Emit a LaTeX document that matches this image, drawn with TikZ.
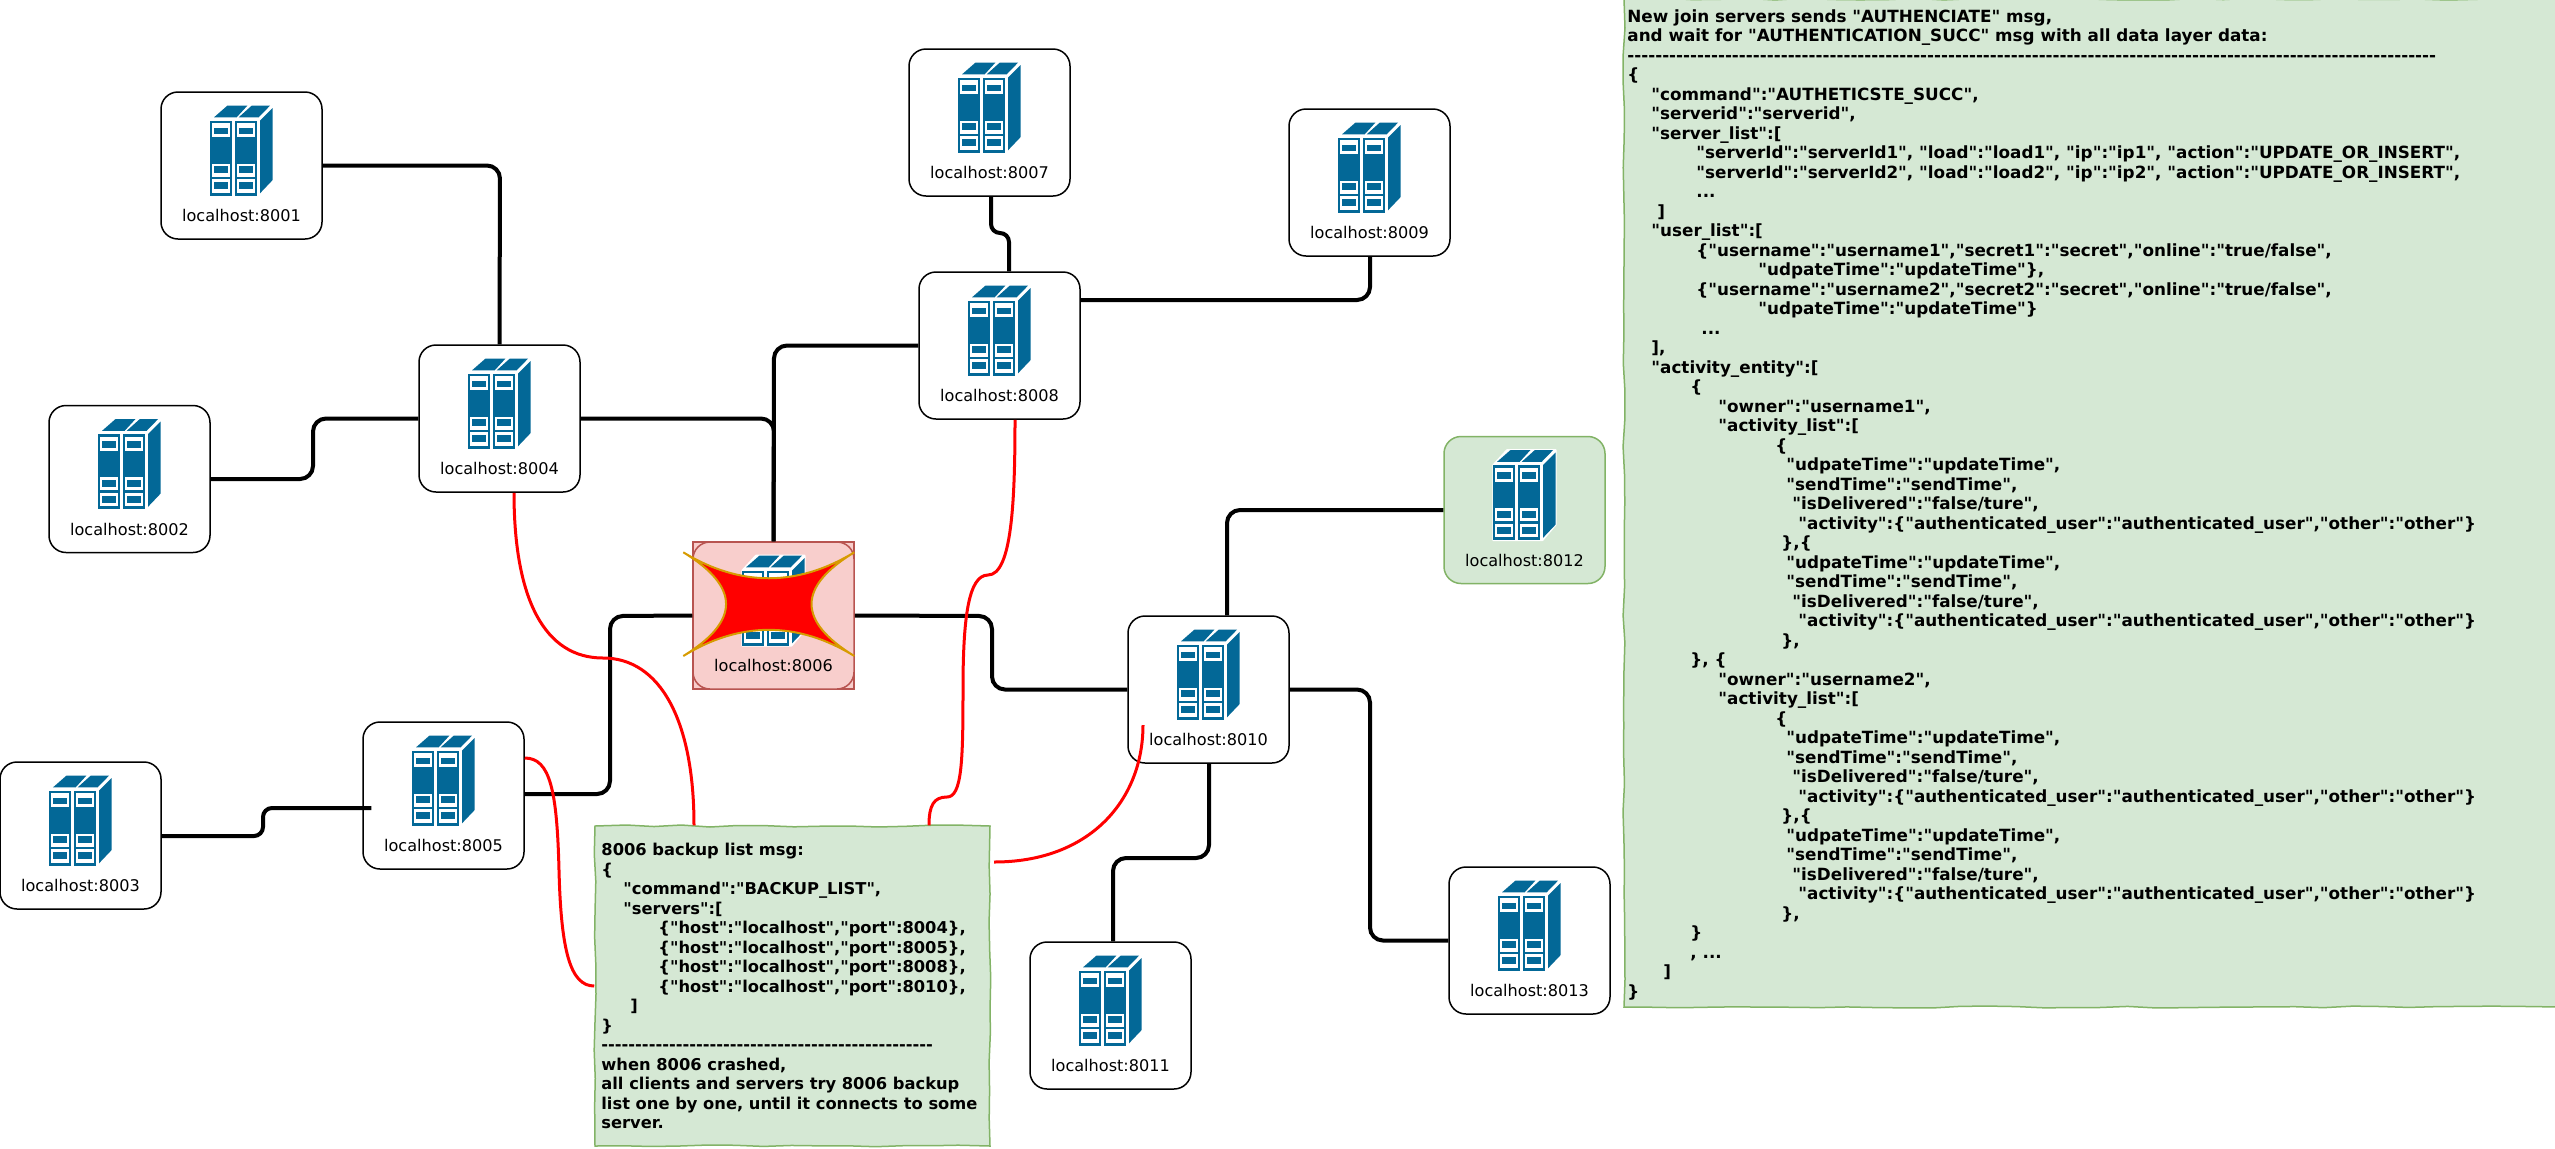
\documentclass[tikz,border=0pt]{standalone}
\usepackage{fontspec}
\usetikzlibrary{decorations.pathmorphing}
\setmainfont{DejaVu Sans}
\newfontfamily\notefont{DejaVu Sans Bold}
\definecolor{srvblue}{HTML}{036897}
\definecolor{pinkfill}{HTML}{F8CECC}
\definecolor{pinkline}{HTML}{B85450}
\definecolor{greenfill}{HTML}{D5E8D4}
\definecolor{greenline}{HTML}{82B366}
\definecolor{starline}{HTML}{D79B00}
\newdimen\pxu \pxu=.5pt
\newcommand{\jl}[2]{\hspace*{#1\pxu}#2\\}
\tikzset{
  srvbox/.style={draw=black,fill=white,line width=.75pt,rounded corners=8.5pt,minimum width=80.5pt,minimum height=73.5pt,inner sep=0pt},
  srvlabel/.style={anchor=base,inner sep=0pt,font=\fontsize{8.05}{10}\selectfont},
  crashed/.style={draw=pinkline,fill=pinkfill},
  added/.style={draw=greenline,fill=greenfill},
  net/.style={draw=black,line width=2pt,rounded corners=6.5pt},
  netjog/.style={draw=black,line width=2pt,rounded corners=4.5pt},
  backup/.style={draw=red,line width=1.5pt},
  notebox/.style={draw=greenline,fill=greenfill,line width=.75pt,inner sep=0pt,decorate,decoration={random steps,segment length=14pt,amplitude=.5pt}},
  notetext/.style={anchor=north west,inner sep=0pt,align=left,font=\fontsize{8.15}{9.75}\selectfont\notefont},
  rnotetext/.style={notetext,font=\fontsize{8.4}{9.75}\selectfont\notefont},
  pics/srvicon/.style={code={
    \begin{scope}[x=.16667pt,y=-.16667pt,shift={(-274.5,-256.5)}]
      \filldraw[white,line width=1pt,line join=round] (181,122)--(222,77)--(368,77)--(368,300)--(328,347)--(181,347)--cycle;
      \fill[srvblue] (192,112)--(232,77)--(292,77)--(260,112)--cycle;
      \fill[srvblue] (266,112)--(305,77)--(360,77)--(326,112)--cycle;
      \fill[srvblue] (330,122)--(368,84)--(368,300)--(330,340)--cycle;
      \foreach \u in {181,255}{
        \fill[srvblue] (\u,122) rectangle (\u+65,347);
        \fill[white] (\u+6,130) rectangle (\u+60,172);
        \fill[white] (\u+6,251) rectangle (\u+60,290);
        \fill[white] (\u+6,298) rectangle (\u+60,338);
        \fill[srvblue] (\u+12,143) rectangle (\u+54,163);
        \fill[srvblue] (\u+12,258) rectangle (\u+54,280);
        \fill[srvblue] (\u+12,306) rectangle (\u+54,328);
      }
    \end{scope}
  }}
}
\newcommand{\srv}[5]{%
  \node[srvbox,#4] (#1) at (#2,#3) {};
  \pic at (#1.center) {srvicon};
  \node[srvlabel] (#1l) at ([yshift=-28pt]#1.center) {#5};
}
\begin{document}
\begin{tikzpicture}[x=.5pt,y=-.5pt]
\pgfmathsetseed{7}
\useasboundingbox (0,0) rectangle (2555,1148);
\filldraw[fill=pinkfill,draw=pinkline,line width=.75pt] (693,542) rectangle (854,689);
\srv{n8001}{241.5}{165.5}{}{localhost:8001}
\srv{n8002}{129.5}{479}{}{localhost:8002}
\srv{n8003}{80.5}{835.5}{}{localhost:8003}
\srv{n8004}{499.5}{418.5}{}{localhost:8004}
\srv{n8005}{443.5}{795.5}{}{localhost:8005}
\srv{n8006}{773.5}{615.5}{crashed}{localhost:8006}
\srv{n8007}{989.5}{122.5}{}{localhost:8007}
\srv{n8008}{999.5}{345.5}{}{localhost:8008}
\srv{n8009}{1369.5}{182.5}{}{localhost:8009}
\srv{n8010}{1208.5}{689.5}{}{localhost:8010}
\srv{n8011}{1110.5}{1015.5}{}{localhost:8011}
\srv{n8012}{1524.5}{510}{added}{localhost:8012}
\srv{n8013}{1529.5}{940.5}{}{localhost:8013}
% crash star
\coordinate (sNW) at (683.3,552.3);
\coordinate (sNE) at (854.3,552.3);
\coordinate (sSE) at (854.3,656);
\coordinate (sSW) at (683.3,656);
\filldraw[fill=red,draw=starline,line width=1pt] (sNW) .. controls (740.3,586.9) and (797.3,586.9) .. (sNE) .. controls (797.3,586.9) and (797.3,621.1) .. (sSE) .. controls (797.3,621.1) and (740.3,621.1) .. (sSW) .. controls (740.3,621.1) and (740.3,586.9) .. (sNW) -- cycle;
% notes
\node[notebox,minimum width=197.5pt,minimum height=160pt] (note) at (792.5,986) {};
\node[notetext] (notet) at (601,843) {%
8006 backup list msg:\\
\{\\
\jl{22}{"command":"BACKUP\_LIST",}
\jl{22}{"servers":[}
\jl{57}{\{"host":"localhost","port":8004\},}
\jl{57}{\{"host":"localhost","port":8005\},}
\jl{57}{\{"host":"localhost","port":8008\},}
\jl{57}{\{"host":"localhost","port":8010\},}
\jl{29}{]}
\}\\
-------------------------------------------------\\
when 8006 crashed,\\
all clients and servers try 8006 backup\\
list one by one, until it connects to some\\
server.};
\node[notebox,minimum width=468pt,minimum height=504pt] (rnote) at (2092,503) {};
\node[rnotetext] (rnotet) at (1627,9) {%
New join servers sends "AUTHENCIATE" msg,\\
and wait for "AUTHENTICATION\_SUCC" msg with all data layer data:\\
--------------------------------------------------------------------------------------------------------------------\\
\{\\
\jl{24}{"command":"AUTHETICSTE\_SUCC",}
\jl{24}{"serverid":"serverid",}
\jl{24}{"server\_list":[}
\jl{69}{"serverId":"serverId1", "load":"load1", "ip":"ip1", "action":"UPDATE\_OR\_INSERT",}
\jl{69}{"serverId":"serverId2", "load":"load2", "ip":"ip2", "action":"UPDATE\_OR\_INSERT",}
\jl{69}{...}
\jl{30}{]}
\jl{24}{"user\_list":[}
\jl{69}{\{"username":"username1","secret1":"secret","online":"true/false",}
\jl{131}{"udpateTime":"updateTime"\},}
\jl{69}{\{"username":"username2","secret2":"secret","online":"true/false",}
\jl{131}{"udpateTime":"updateTime"\}}
\jl{74}{...}
\jl{24}{],}
\jl{24}{"activity\_entity":[}
\jl{63}{\{}
\jl{91}{"owner":"username1",}
\jl{91}{"activity\_list":[}
\jl{148}{\{}
\jl{159}{"udpateTime":"updateTime",}
\jl{159}{"sendTime":"sendTime",}
\jl{165}{"isDelivered":"false/ture",}
\jl{171}{"activity":\{"authenticated\_user":"authenticated\_user","other":"other"\}}
\jl{154}{\},\{}
\jl{159}{"udpateTime":"updateTime",}
\jl{159}{"sendTime":"sendTime",}
\jl{165}{"isDelivered":"false/ture",}
\jl{171}{"activity":\{"authenticated\_user":"authenticated\_user","other":"other"\}}
\jl{154}{\},}
\jl{63}{\}, \{}
\jl{91}{"owner":"username2",}
\jl{91}{"activity\_list":[}
\jl{148}{\{}
\jl{159}{"udpateTime":"updateTime",}
\jl{159}{"sendTime":"sendTime",}
\jl{165}{"isDelivered":"false/ture",}
\jl{171}{"activity":\{"authenticated\_user":"authenticated\_user","other":"other"\}}
\jl{154}{\},\{}
\jl{159}{"udpateTime":"updateTime",}
\jl{159}{"sendTime":"sendTime",}
\jl{165}{"isDelivered":"false/ture",}
\jl{171}{"activity":\{"authenticated\_user":"authenticated\_user","other":"other"\}}
\jl{154}{\},}
\jl{63}{\}}
\jl{63}{, ...}
\jl{36}{]}
\}};
% black links
\draw[net] (n8001.east) -- (500,165.5) -- (n8004.north);
\draw[net] (n8002.east) -- (313,479) -- (313,418.5) -- (n8004.west);
\draw[netjog] (n8003.east |- 0,836) -- (263,836) -- (263,808) -- (n8005.west |- 0,808) -- (368,808);
\draw[net] (n8004.east) -- (774,418.5) -- (n8006.north);
\draw[net] (n8008.west) -- (774,345.5) -- (n8006.north);
\draw[net] (n8005.east |- 0,794) -- (610,794) -- (610,616) -- (n8006.west);
\draw[net] (n8006.east) -- (992,616) -- (992,689.5) -- (n8010.west);
\draw[netjog] (n8007.south -| 991,0) -- (991,233) -- (1009,233) -- (n8008.north -| 1009,0);
\draw[net] (n8008.east |- 0,300) -- (1370,300) -- (n8009.south -| 1370,0);
\draw[net] (n8010.north -| 1227,0) -- (1227,510) -- (n8012.west);
\draw[net] (n8010.east) -- (1370,689.5) -- (1370,940.5) -- (n8013.west);
\draw[net] (n8010.south -| 1209,0) -- (1209,858) -- (1113,858) -- (n8011.north -| 1113,0);
% red links
\coordinate (r8010) at (1143,725);
\coordinate (rnote8010) at (994,862);
\draw[backup] (n8004.south -| 514,0) .. controls (514,600) and (545,658) .. (603,658) .. controls (660,658) and (694,720) .. (note.north -| 694,0);
\draw[backup] (n8005.east |- 0,758) .. controls (550,758) and (557,790) .. (559,870) .. controls (561,950) and (570,986) .. (note.west);
\draw[backup] (n8008.south -| 1015,0) .. controls (1015,500) and (1012,575) .. (988,575) .. controls (968,575) and (963,620) .. (963,690) .. controls (963,760) and (962,797) .. (947,797) .. controls (934,797) and (929,805) .. (note.north -| 929,0);
\draw[backup] (r8010) .. controls (1143,800) and (1090,862) .. (rnote8010);
\end{tikzpicture}
\end{document}
